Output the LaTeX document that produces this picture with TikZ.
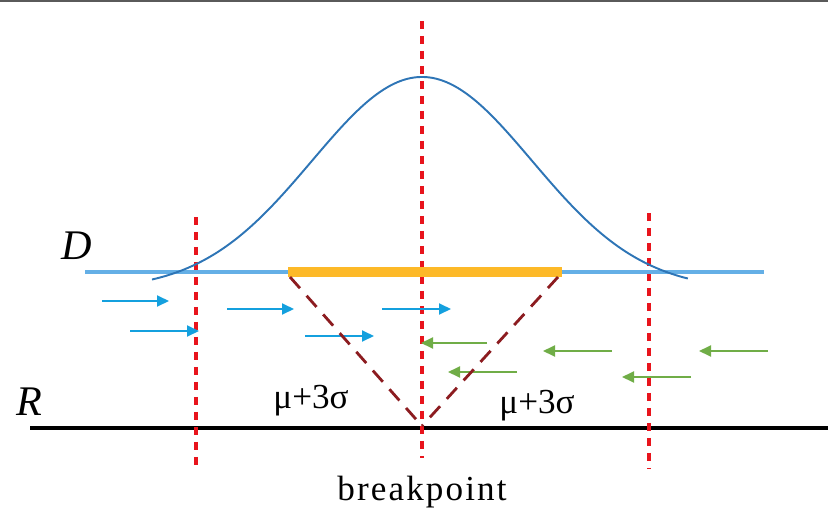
\documentclass[tikz,border=0pt]{standalone}
\usepackage{fontspec}
\setmainfont{Liberation Serif}
\usetikzlibrary{arrows.meta}
\definecolor{dline}{RGB}{100,175,230}
\definecolor{bar}{RGB}{253,185,40}
\definecolor{gaussc}{RGB}{46,117,182}
\definecolor{barrow}{RGB}{20,160,222}
\definecolor{garrow}{RGB}{112,173,71}
\definecolor{vred}{RGB}{232,20,28}
\definecolor{dred}{RGB}{140,28,32}
\definecolor{topgray}{RGB}{90,90,90}
\tikzset{
  vdash/.style={draw=vred,line width=1.9pt,dash pattern=on 0.16cm off 0.14cm},
  vee/.style={draw=dred,line width=1.6pt,dash pattern=on 0.3cm off 0.2cm},
  barr/.style={draw=barrow,line width=1.1pt,-{Triangle[length=0.24cm,width=0.22cm]}},
  garr/.style={draw=garrow,line width=1.1pt,-{Triangle[length=0.24cm,width=0.22cm]}},
  lbl/.style={inner sep=0pt,font=\fontsize{20}{22}\selectfont},
  axl/.style={inner sep=0pt,font=\fontsize{24}{28}\selectfont\itshape}
}
\begin{document}
\begin{tikzpicture}[x=0.02cm,y=-0.02cm]
\useasboundingbox (0,0) rectangle (828,507);
\fill[topgray] (0,0) rectangle (828,2.5);
% coordinates
\coordinate (r0) at (30,428);   \coordinate (r1) at (828,428);
\coordinate (d0) at (85,272);   \coordinate (d1) at (764,272);
\coordinate (b0) at (288,272);  \coordinate (b1) at (562,272);
\coordinate (ct) at (422,21);   \coordinate (cb) at (422,458);
\coordinate (lt) at (196,217);  \coordinate (lb) at (196,468);
\coordinate (rt) at (649,213);  \coordinate (rb) at (649,468);
\coordinate (vl) at (290,277);  \coordinate (vr) at (558,277);
\coordinate (apex) at (422,426);
% R line
\draw[line width=2.3pt,black] (r0) -- (r1);
% red verticals
\draw[vdash] (ct) -- (cb);
\draw[vdash] (lt) -- (lb);
\draw[vdash] (rt) -- (rb);
% D line and bar
\draw[dline,line width=2.3pt] (d0) -- (d1);
\draw[bar,line width=5.5pt] (b0) -- (b1);
% gaussian
\draw[gaussc,line width=1.1pt] plot[domain=-2.7:2.66,samples=120,smooth] ({422+100*\x},{290-213*exp(-\x*\x/2.42)});
% blue arrows
\coordinate (a1s) at (102,301); \coordinate (a1e) at (169,301);
\coordinate (a2s) at (130,331); \coordinate (a2e) at (199,331);
\coordinate (a3s) at (227,309); \coordinate (a3e) at (294,309);
\coordinate (a4s) at (305,336); \coordinate (a4e) at (374,336);
\coordinate (a5s) at (382,309); \coordinate (a5e) at (451,309);
\foreach \n in {1,...,5} \draw[barr] (a\n s) -- (a\n e);
% green arrows
\coordinate (g1s) at (487,343); \coordinate (g1e) at (421,343);
\coordinate (g2s) at (517,372); \coordinate (g2e) at (448,372);
\coordinate (g3s) at (612,351); \coordinate (g3e) at (543,351);
\coordinate (g4s) at (691,377); \coordinate (g4e) at (622,377);
\coordinate (g5s) at (768,351); \coordinate (g5e) at (699,351);
\foreach \n in {1,...,5} \draw[garr] (g\n s) -- (g\n e);
% dark red V
\draw[vee] (vl) -- (apex);
\draw[vee] (vr) -- (apex);
% labels
\node[axl] (D) at (77,246) {D};
\node[axl] (R) at (29,402) {R};
\node[lbl] (m1) at (311,401) {μ+3σ};
\node[lbl] (m2) at (537,406) {μ+3σ};
\node[inner sep=0pt,font=\fontsize{20}{24}\selectfont\addfontfeatures{LetterSpace=6},anchor=base] (bp) at (422,500) {breakpoint};
\end{tikzpicture}
\end{document}
